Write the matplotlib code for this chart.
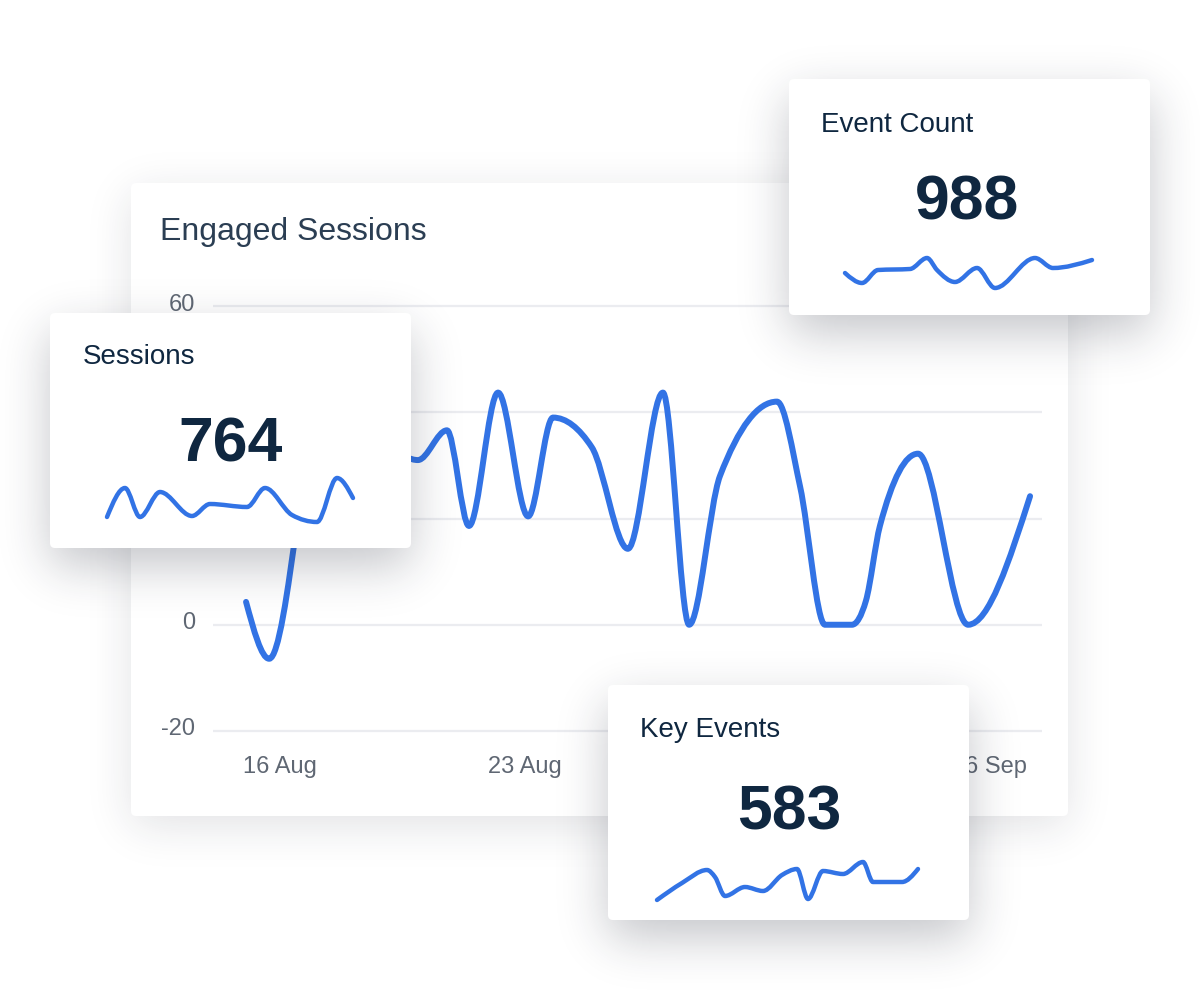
import numpy as np
import matplotlib
matplotlib.use("Agg")
import matplotlib.pyplot as plt
from matplotlib.path import Path
from matplotlib.patches import PathPatch, FancyBboxPatch
from matplotlib.transforms import ScaledTranslation
from math import erf

plt.rcParams['font.family'] = ['Liberation Sans', 'DejaVu Sans']

# dane - engaged sessions (dni od 16 Aug)
days = [-0.97, -0.31, 1.29, 3.94, 4.77, 5.40, 6.23, 7.09, 7.80, 8.91, 9.94,
        10.94, 11.69, 12.57, 14.20, 14.86, 15.57, 16.34, 16.74, 17.14, 18.23, 19.66, 21.43]
engaged = [4.3, -6.4, 45, 31, 36.6, 18.6, 43.7, 20.4, 39, 33.4, 14.3,
           43.7, 0, 28, 42, 26, 0, 0, 4.5, 18.6, 32.2, 0, 24.2]
tick_days = [0, 7, 14, 21]
tick_names = ["16 Aug", "23 Aug", "30 Aug", "6 Sep"]
y_ticks = [-20, 0, 20, 40, 60]

# male karty
sessions_total = 764
sessions_pos = [0, 18, 33, 53, 85, 103, 140, 158, 185, 210, 230, 246]
sessions_trend = [5, 34, 5, 30, 6, 18, 15, 34, 7, 0, 44, 24]

events_total = 988
events_pos = [0, 17, 33, 65, 82, 92, 110, 132, 150, 190, 208, 247]
events_trend = [15, 5, 18, 19, 30, 18, 6, 20, 0, 30, 20, 28]

key_total = 583
key_pos = [0, 25, 50, 58, 68, 88, 106, 125, 140, 151, 166, 186, 206, 216, 245, 261]
key_trend = [0, 17, 30, 23, 4, 13, 9, 25, 31, 1, 29, 26, 38, 18, 18, 31]

W, H = 1200, 1000
blue = '#3273e5'
navy = '#0f2740'
erfv = np.vectorize(erf)


def rect(x0, y0, x1, y1):
    return [x0 / W, 1 - y1 / H, (x1 - x0) / W, (y1 - y0) / H]


def smooth_path(x, y):
    # monotone cubic jak w d3, rysowana krzywymi beziera
    x = np.asarray(x, float)
    y = np.asarray(y, float)
    h = np.diff(x)
    s = np.diff(y) / h
    m = np.zeros_like(y)
    for i in range(1, len(y) - 1):
        if s[i - 1] * s[i] > 0:
            p = (s[i - 1] * h[i] + s[i] * h[i - 1]) / (h[i - 1] + h[i])
            m[i] = (np.sign(s[i - 1]) + np.sign(s[i])) * min(abs(s[i - 1]), abs(s[i]), 0.5 * abs(p))
    m[0] = (3 * s[0] - m[1]) / 2
    m[-1] = (3 * s[-1] - m[-2]) / 2
    verts = [(x[0], y[0])]
    codes = [Path.MOVETO]
    for i in range(len(h)):
        d = h[i] / 3
        verts += [(x[i] + d, y[i] + m[i] * d), (x[i + 1] - d, y[i + 1] - m[i + 1] * d), (x[i + 1], y[i + 1])]
        codes += [Path.CURVE4] * 3
    return Path(verts, codes)


def overlay(z):
    ax = fig.add_axes([0, 0, 1, 1], zorder=z)
    ax.axis('off')
    return ax


def shadow(ax, box, strength, sigma, dy):
    x0, y0, x1, y1 = box
    xs = np.arange(W) + 0.5
    ys = np.arange(H) + 0.5
    k = sigma * np.sqrt(2)
    fx = 0.5 * (erfv((xs - x0) / k) - erfv((xs - x1) / k))
    fy = 0.5 * (erfv((ys - y0 - dy) / k) - erfv((ys - y1 - dy) / k))
    img = np.zeros((H, W, 4))
    img[..., 0], img[..., 1], img[..., 2] = 0.12, 0.14, 0.2
    img[..., 3] = strength * np.outer(fy, fx)
    ax.imshow(img, extent=(0, W, H, 0), interpolation='bilinear', aspect='auto', zorder=0)
    ax.add_patch(FancyBboxPatch((x0, y0), x1 - x0, y1 - y0, boxstyle='round,pad=0,rounding_size=5',
                                fc='white', ec='none', zorder=1))
    ax.set_xlim(0, W)
    ax.set_ylim(H, 0)


def small_card(z, box, title, title_xy, total, total_xy, pos, trend, spark_box):
    ax = overlay(z)
    shadow(ax, box, 0.26, 24, 18)
    ax.text(title_xy[0], title_xy[1], title, fontsize=20, color=navy, va='baseline', ha='left')
    ax.text(total_xy[0], total_xy[1], str(total), fontsize=45, fontweight='bold', color=navy,
            va='baseline', ha='center')
    sp = fig.add_axes(rect(*spark_box), zorder=z + 0.5)
    sp.axis('off')
    sp.add_patch(PathPatch(smooth_path(pos, trend), fill=False, ec=blue, lw=3.2,
                           capstyle='round', joinstyle='round', clip_on=False))
    sp.set_xlim(min(pos), max(pos))
    sp.set_ylim(min(trend), max(trend))


fig = plt.figure(figsize=(12, 10), dpi=100)
fig.patch.set_facecolor('white')

# glowna karta
bg = overlay(0)
shadow(bg, (131, 183, 1068, 816), 0.13, 22, 10)
bg.text(160, 240, "Engaged Sessions", fontsize=23, color='#2b3e53', va='baseline', ha='left')

ax = fig.add_axes(rect(213, 300, 1042, 737), zorder=1)
ax.set_facecolor('none')
for v in y_ticks:
    ax.axhline(v, color='#ebecf0', lw=1.6, zorder=0)
ax.add_patch(PathPatch(smooth_path(days, engaged), fill=False, ec=blue, lw=4.3,
                       capstyle='round', joinstyle='round', zorder=2))
ax.set_xlim(-1.914, 21.771)
ax.set_ylim(-21.13, 61.13)
ax.set_xticks(tick_days, tick_names)
ax.set_yticks(y_ticks, [str(v) for v in y_ticks])
ax.tick_params(length=0, labelsize=17, colors='#5f6773')
ax.tick_params(axis='x', pad=14)
ax.tick_params(axis='y', pad=13)
for s in ax.spines.values():
    s.set_visible(False)
for lab in ax.get_yticklabels():
    lab.set_transform(lab.get_transform() + ScaledTranslation(0, 4 / 100, fig.dpi_scale_trans))
last = ax.get_xticklabels()[-1]
last.set_transform(last.get_transform() + ScaledTranslation(-19 / 100, 0, fig.dpi_scale_trans))

small_card(2, (789, 79, 1150, 315), "Event Count", (821, 132), events_total, (967, 220),
           events_pos, events_trend, (845, 258, 1092, 288))
small_card(3, (50, 313, 411, 548), "Sessions", (83, 364), sessions_total, (231, 462),
           sessions_pos, sessions_trend, (107, 478, 353, 522))
small_card(4, (608, 685, 969, 920), "Key Events", (640, 737), key_total, (789, 830),
           key_pos, key_trend, (657, 862, 918, 900))

fig.savefig("out.png", dpi=100, facecolor='white')
